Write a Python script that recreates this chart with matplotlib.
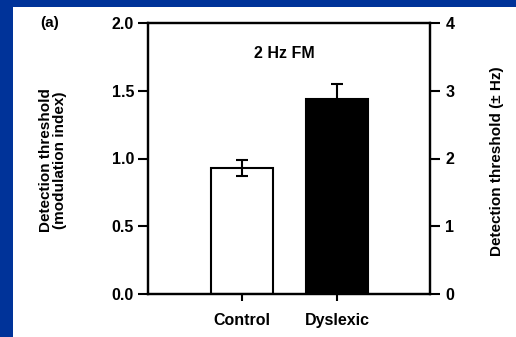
import matplotlib
matplotlib.use("Agg")
import matplotlib.pyplot as plt
from matplotlib.patches import Rectangle

categories = ["Control", "Dyslexic"]
values = [0.93, 1.44]
errors = [0.06, 0.11]
bar_colors = ["white", "black"]
left_ticks = [0.0, 0.5, 1.0, 1.5, 2.0]
left_ticklabels = ["0.0", "0.5", "1.0", "1.5", "2.0"]
right_ticks = [0, 1, 2, 3, 4]
right_ticklabels = ["0", "1", "2", "3", "4"]

plt.rcParams['font.family'] = ['Liberation Sans', 'DejaVu Sans']
plt.rcParams['font.weight'] = 'bold'

fig = plt.figure(figsize=(5.16, 3.37), dpi=100)
fig.patch.set_facecolor('#003399')
fig.patches.append(Rectangle((13/516, 0), 1 - 13/516, 1 - 7/337,
                             transform=fig.transFigure, facecolor='white',
                             edgecolor='none', zorder=-10))

ax = fig.add_axes([148/516, 1 - 294/337, (430 - 148)/516, (294 - 23)/337])
ax.set_facecolor('white')
x = list(range(len(categories)))
ax.bar(x, values, width=0.66, color=bar_colors, edgecolor='black', linewidth=1.5, zorder=2)
ax.errorbar(x, values, yerr=errors, fmt='none', ecolor='black', elinewidth=1.5,
            capsize=4.5, capthick=1.5, zorder=3)
ax.set_xlim(-0.99, 1.98)
ax.set_ylim(0, 2.0)
ax.set_yticks(left_ticks)
ax.set_yticklabels(left_ticklabels, fontsize=11.5, fontweight='bold')
ax.set_xticks(x)
ax.set_xticklabels(categories, fontsize=11.5, fontweight='bold')
ax.tick_params(axis='y', direction='out', length=7, width=1.5, pad=3)
ax.tick_params(axis='x', direction='out', length=5, width=1.5, pad=9)
for s in ax.spines.values():
    s.set_linewidth(1.6)

ax2 = ax.twinx()
ax2.set_ylim(0, 4)
ax2.set_yticks(right_ticks)
ax2.set_yticklabels(right_ticklabels, fontsize=11.5, fontweight='bold')
ax2.tick_params(axis='y', direction='out', length=7, width=1.5, pad=4)
for s in ax2.spines.values():
    s.set_linewidth(1.6)

ax.text(0.485, 0.886, "2 Hz FM", transform=ax.transAxes, ha='center', va='center',
        fontsize=11.5, fontweight='bold')
fig.text(50/516, 1 - 23/337, "(a)", ha='center', va='center', fontsize=11, fontweight='bold')
fig.text(53/516, 1 - 160/337, "Detection threshold\n(modulation index)", rotation=90,
         ha='center', va='center', fontsize=11, fontweight='bold', linespacing=1.05,
         multialignment='center')
fig.text(497/516, 1 - 161/337, "Detection threshold (± Hz)", rotation=90,
         ha='center', va='center', fontsize=11, fontweight='bold')

fig.savefig("out.png", dpi=100, facecolor=fig.get_facecolor())
